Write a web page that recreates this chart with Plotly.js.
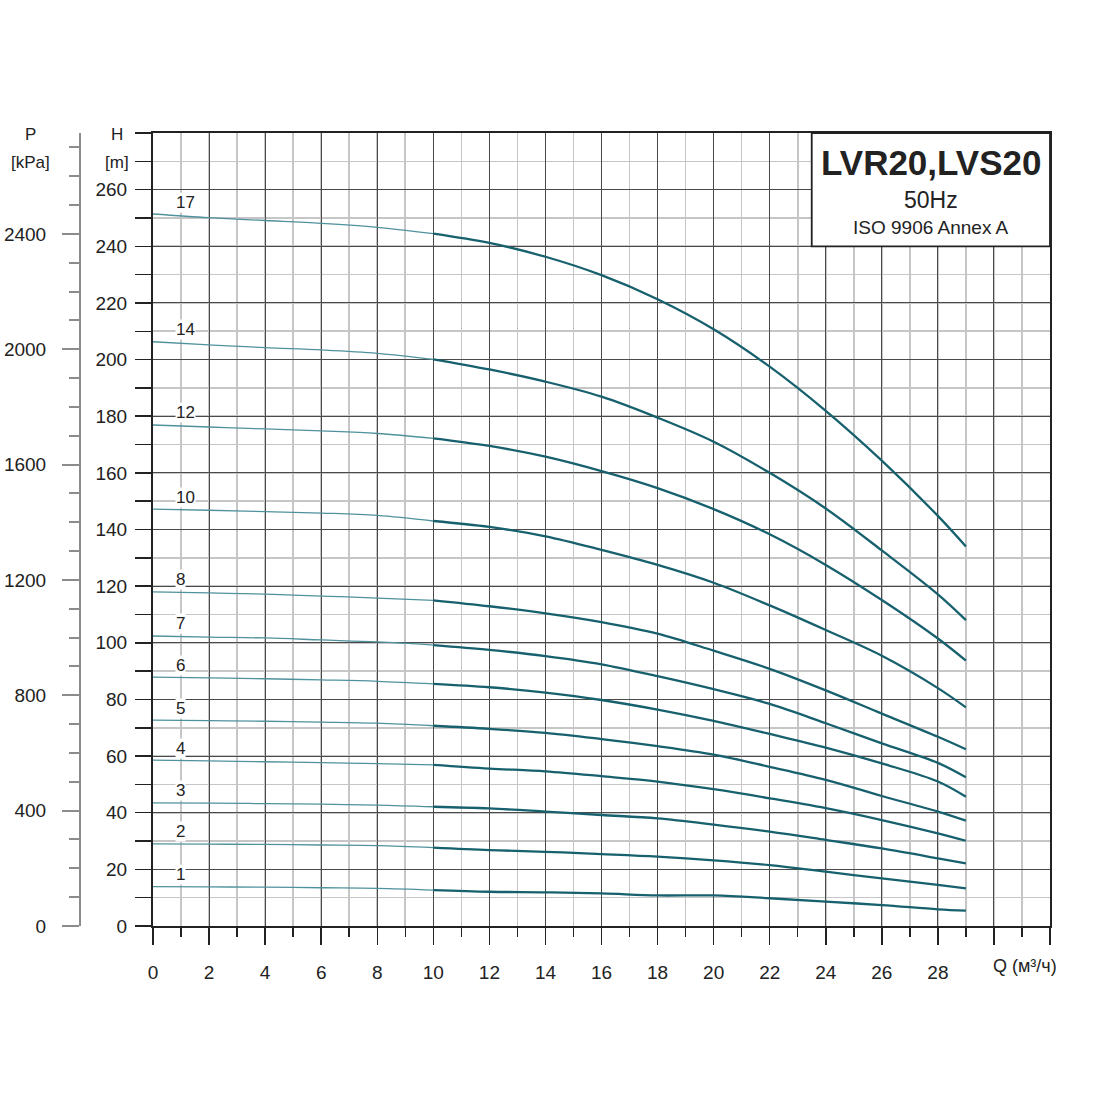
<!DOCTYPE html>
<html>
<head>
<meta charset="utf-8">
<script src="https://cdn.plot.ly/plotly-3.0.1.min.js"></script>
<style>
  html, body { margin: 0; padding: 0; background: #fff; }
  #chart { width: 1100px; height: 1100px; }
</style>
</head>
<body>
<div id="chart"></div>
<script>
// flow points, m3/h
const flow = [0, 2, 4, 6, 8, 10, 12, 14, 16, 18, 20, 22, 24, 26, 28, 29];

// head per stage count, m
const head17 = [251.4, 250.1, 249.1, 248.1, 246.7, 244.5, 241.2, 236.3, 229.8, 221.3, 210.7, 197.5, 181.9, 164.3, 144.8, 134.0];
const head14 = [206.3, 205.2, 204.2, 203.4, 202.2, 200.1, 196.5, 192.2, 186.9, 179.5, 171.0, 160.0, 147.4, 132.6, 117.1, 108.0];
const head12 = [176.9, 176.2, 175.5, 174.8, 173.9, 172.2, 169.5, 165.7, 160.6, 154.6, 147.2, 138.3, 127.5, 115.1, 101.5, 93.7];
const head10 = [147.2, 146.8, 146.3, 145.8, 145.0, 143.0, 140.9, 137.6, 132.8, 127.5, 121.2, 113.2, 104.5, 95.4, 84.0, 77.2];
const head8  = [118.0, 117.6, 117.2, 116.5, 115.8, 115.0, 112.9, 110.4, 107.3, 103.2, 97.2, 90.8, 83.2, 75.0, 66.8, 62.4];
const head7  = [102.4, 102.0, 101.7, 101.0, 100.3, 99.2, 97.5, 95.3, 92.4, 88.2, 83.6, 78.4, 71.6, 64.5, 57.6, 52.5];
const head6  = [87.9, 87.6, 87.3, 86.9, 86.4, 85.5, 84.3, 82.4, 79.8, 76.4, 72.4, 67.8, 63.0, 57.4, 51.0, 45.6];
const head5  = [72.7, 72.5, 72.3, 72.0, 71.6, 70.7, 69.6, 68.2, 66.0, 63.5, 60.5, 56.2, 51.6, 45.9, 40.4, 37.2];
const head4  = [58.6, 58.3, 58.0, 57.7, 57.3, 56.9, 55.6, 54.6, 52.9, 51.0, 48.3, 45.1, 41.6, 37.4, 32.7, 30.1];
const head3  = [43.5, 43.4, 43.2, 43.0, 42.7, 42.1, 41.5, 40.4, 39.2, 38.0, 35.8, 33.3, 30.4, 27.4, 23.9, 22.1];
const head2  = [29.0, 28.9, 28.8, 28.6, 28.4, 27.7, 26.8, 26.2, 25.4, 24.5, 23.2, 21.5, 19.2, 16.8, 14.5, 13.3];
const head1  = [13.9, 13.8, 13.7, 13.5, 13.3, 12.7, 12.1, 11.9, 11.5, 10.8, 10.8, 9.8, 8.6, 7.4, 5.9, 5.4];

const stages = ['17', '14', '12', '10', '8', '7', '6', '5', '4', '3', '2', '1'];
const heads = [head17, head14, head12, head10, head8, head7, head6, head5, head4, head3, head2, head1];

// axis ticks
const qTicks  = [0, 2, 4, 6, 8, 10, 12, 14, 16, 18, 20, 22, 24, 26, 28, 30, 32];
const qLabels = ['0', '2', '4', '6', '8', '10', '12', '14', '16', '18', '20', '22', '24', '26', '28', '', ''];
const hTicks  = [0, 20, 40, 60, 80, 100, 120, 140, 160, 180, 200, 220, 240, 260, 280];
const hLabels = ['0', '20', '40', '60', '80', '100', '120', '140', '160', '180', '200', '220', '240', '260', ''];

const titleLines = ['LVR20,LVS20', '50Hz', 'ISO 9906 Annex A'];

const H_MAX = 280;
const P_MAX = 2750;   // kPa at H_MAX
const THICK_FROM = 5; // index where the curves get drawn heavier

// page geometry (px)
const W = 1100, HGT = 1100;
const M = { l: 20, r: 50, t: 133, b: 174 };
const plotW = W - M.l - M.r;
const plotH = HGT - M.t - M.b;
const px = x => (x - M.l) / plotW;
const py = y => (HGT - M.b - y) / plotH;

const FONT = 'Liberation Sans, Arial, Helvetica, sans-serif';
const INK = '#222';

const traces = [];
heads.forEach((h, i) => {
  traces.push({
    x: flow.slice(0, THICK_FROM + 1),
    y: h.slice(0, THICK_FROM + 1),
    mode: 'lines',
    line: { color: '#4f929c', width: 1.3, shape: 'spline', smoothing: 1 },
    hoverinfo: 'skip',
    showlegend: false
  });
  traces.push({
    x: flow.slice(THICK_FROM),
    y: h.slice(THICK_FROM),
    mode: 'lines',
    name: stages[i],
    line: { color: '#17606d', width: 2.3, shape: 'spline', smoothing: 1 },
    showlegend: false
  });
});
// empty trace so the pressure axis gets its subplot
traces.push({ x: [], y: [], yaxis: 'y2', mode: 'lines', showlegend: false, hoverinfo: 'skip' });

const annotations = stages.map((s, i) => ({
  x: 0.8, y: heads[i][0], xref: 'x', yref: 'y',
  xanchor: 'left', yanchor: 'middle', yshift: 12,
  text: s, showarrow: false, bgcolor: '#fff', borderpad: 0,
  font: { family: FONT, size: 17, color: INK }
}));

const sideLabel = (text, x, y, size) => ({
  x: px(x), y: py(y), xref: 'paper', yref: 'paper',
  xanchor: 'center', yanchor: 'middle', text, showarrow: false,
  font: { family: FONT, size, color: INK }
});
annotations.push(sideLabel('P', 30, 135, 17));
annotations.push(sideLabel('[kPa]', 30, 163, 17));
annotations.push(sideLabel('H', 117, 135, 17));
annotations.push(sideLabel('[m]', 117, 163, 17));
annotations.push(sideLabel('Q (м³/ч)', 1025, 966, 18));

// title box texts
annotations.push(sideLabel('<b>' + titleLines[0] + '</b>', 931, 163, 35));
annotations.push(sideLabel(titleLines[1], 931, 200, 23));
annotations.push(sideLabel(titleLines[2], 931, 227, 19));

const layout = {
  width: W, height: HGT,
  margin: M,
  paper_bgcolor: '#fff',
  plot_bgcolor: '#fff',
  showlegend: false,
  font: { family: FONT, color: INK },
  xaxis: {
    domain: [px(153), 1],
    range: [0, 32],
    tickmode: 'array', tickvals: qTicks, ticktext: qLabels,
    ticks: 'outside', ticklen: 17, tickwidth: 1.5, tickcolor: INK,
    ticklabelstandoff: 11,
    tickfont: { family: FONT, size: 19, color: INK },
    showgrid: true, gridcolor: '#4a4a4a', gridwidth: 1,
    showline: true, linecolor: INK, linewidth: 2, mirror: true,
    zeroline: false,
    minor: { tickmode: 'linear', tick0: 0, dtick: 1, ticks: 'outside', ticklen: 9, tickwidth: 1.5, tickcolor: INK,
             showgrid: true, gridcolor: '#c6c6c6', gridwidth: 1.6 }
  },
  yaxis: {
    range: [0, H_MAX],
    tickmode: 'array', tickvals: hTicks, ticktext: hLabels,
    ticks: 'outside', ticklen: 16, tickwidth: 1.5, tickcolor: INK,
    ticklabelstandoff: 4,
    tickfont: { family: FONT, size: 19, color: INK },
    showgrid: true, gridcolor: '#4a4a4a', gridwidth: 1,
    showline: true, linecolor: INK, linewidth: 2, mirror: true,
    zeroline: false,
    minor: { tickmode: 'linear', tick0: 0, dtick: 10, ticks: 'outside', ticklen: 16, tickwidth: 1.5, tickcolor: INK,
             showgrid: true, gridcolor: '#c6c6c6', gridwidth: 1.6 }
  },
  yaxis2: {
    overlaying: 'y', anchor: 'free', position: px(80), side: 'left',
    range: [0, P_MAX], autorange: false,
    tick0: 0, dtick: 400,
    ticks: 'outside', ticklen: 17, tickwidth: 2, tickcolor: '#8c8c8c',
    ticklabelstandoff: 12,
    tickfont: { family: FONT, size: 19, color: INK },
    showgrid: false, zeroline: false,
    showline: true, linecolor: '#8c8c8c', linewidth: 2,
    minor: { tick0: 0, dtick: 100, ticks: 'outside', ticklen: 10, tickwidth: 2, tickcolor: '#8c8c8c', showgrid: false }
  },
  shapes: [{
    type: 'rect', xref: 'x', yref: 'y', layer: 'above',
    x0: 23.5, x1: 32, y0: 240, y1: H_MAX,
    fillcolor: '#fff', line: { color: INK, width: 1.8 }
  }],
  annotations
};

Plotly.newPlot('chart', traces, layout, { staticPlot: true, displayModeBar: false });
</script>
</body>
</html>
